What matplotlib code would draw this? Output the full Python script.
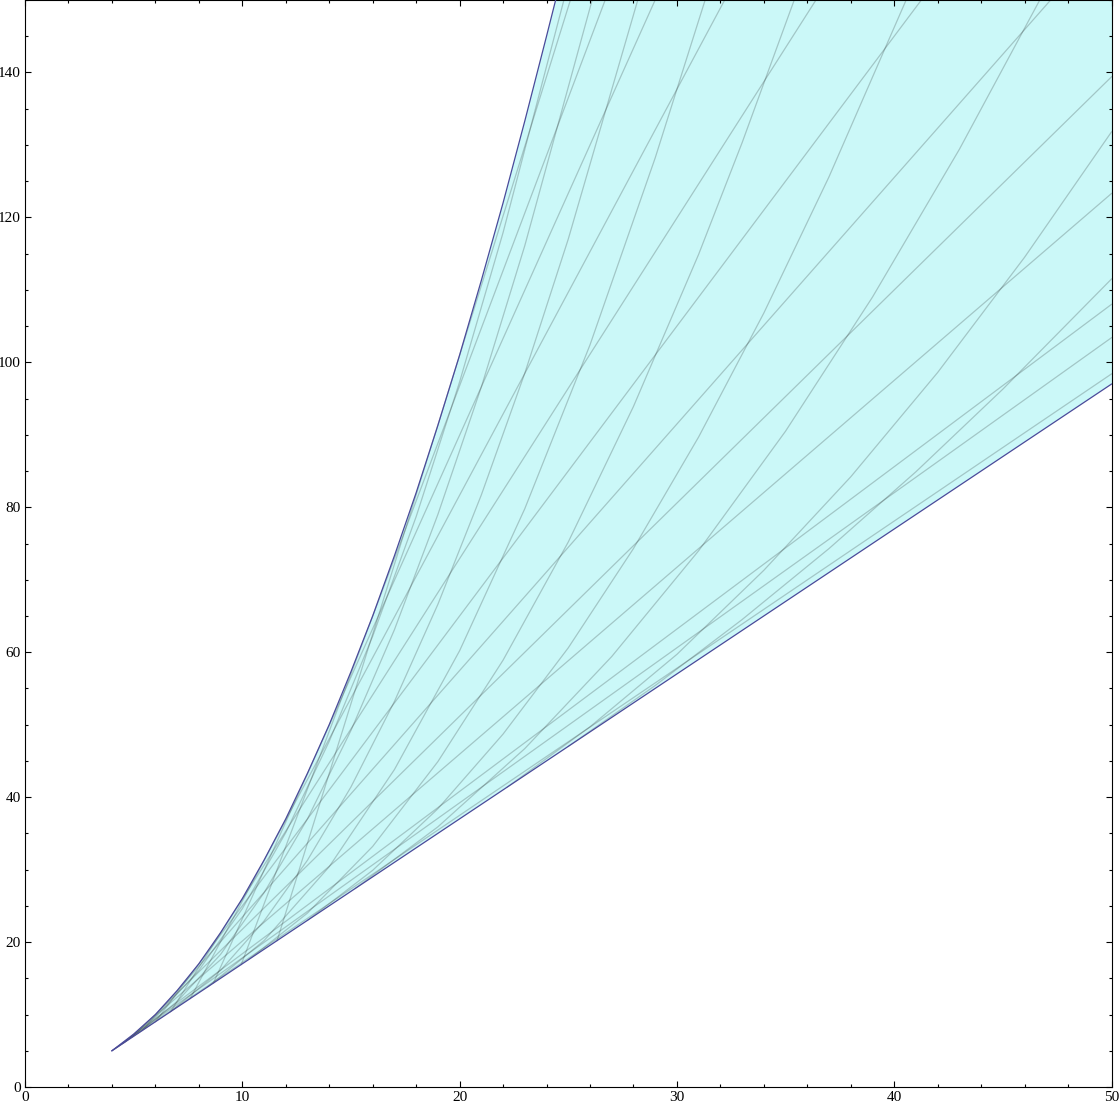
import matplotlib
matplotlib.use("Agg")
import matplotlib.pyplot as plt
from matplotlib.ticker import MultipleLocator

plt.rcParams['font.family'] = ['Liberation Serif', 'DejaVu Serif']

# upper edge of the region
upper_x = [4, 5, 6, 7, 8, 9, 10, 11, 12, 13, 14, 15, 16, 17, 18, 19, 20, 21, 22, 23, 24, 24.42]
upper_y = [5.0, 7.3, 10.0, 13.3, 17.0, 21.3, 26.0, 31.3, 37.0, 43.3, 50.0, 57.3, 65.0, 73.3,
           82.0, 91.3, 101.0, 111.3, 122.0, 133.3, 145.0, 150.0]

# lower edge: straight line
lower_x = [4, 50]
lower_y = [5, 97]

# straight mesh lines: start on lower edge, end on frame
line_x0 = [4.03, 4.14, 4.24, 4.58, 4.94, 5.4, 6.0, 6.7, 7.6, 8.67, 9.95, 11.6]
line_y0 = [5.06, 5.28, 5.48, 6.16, 6.88, 7.8, 9.0, 10.4, 12.2, 14.34, 16.9, 20.2]
line_x1 = [50, 50, 50, 50, 50, 47.2, 41.25, 36.4, 32.2, 29.0, 26.7, 25.1]
line_y1 = [98.4, 103.4, 108.0, 123.3, 139.4, 150, 150, 150, 150, 150, 150, 150]

# curved mesh lines (they leave the lower edge tangentially), points read along each one
curve_xs = [
    [4.5, 6, 8, 10, 12, 14, 16, 18, 20, 22, 24.8],
    [5.2, 7, 9, 11, 13, 15, 17, 19, 21, 23, 26.1],
    [6.7, 9, 11, 13, 15, 17, 19, 21, 23, 25, 28.2],
    [8.4, 11, 14, 17, 20, 23, 26, 29, 31.3],
    [10.3, 13, 16, 19, 22, 25, 28, 31, 33, 35.4],
    [13, 16, 19, 22, 25, 28, 31, 34, 37, 40.55],
    [15.2, 19, 23, 27, 31, 35, 39, 43, 46.7],
    [22.2, 26, 30, 34, 38, 42, 46, 50],
    [25, 29, 33, 37, 41, 45, 50],
]
curve_ys = [
    [6.0, 9.6, 16.1, 24.6, 35.1, 47.7, 62.2, 78.7, 97.3, 117.9, 150],
    [7.4, 11.8, 18.3, 26.8, 37.0, 49.2, 63.1, 79.0, 96.6, 116.1, 150],
    [10.4, 16.1, 22.9, 31.3, 41.4, 53.2, 66.6, 81.7, 98.5, 117.0, 150],
    [13.8, 20.2, 30.4, 43.8, 60.2, 79.8, 102.4, 128.2, 150],
    [17.6, 24.0, 33.2, 44.9, 58.9, 75.2, 93.9, 114.9, 130.3, 150],
    [23.0, 29.9, 38.4, 48.7, 60.6, 74.3, 89.7, 106.8, 125.6, 150],
    [27.4, 35.9, 46.7, 59.4, 74.0, 90.5, 109.0, 129.4, 150],
    [41.4, 49.7, 59.7, 71.3, 84.2, 98.6, 114.5, 131.8],
    [47.0, 55.4, 64.5, 74.3, 84.9, 96.3, 111.5],
]

fig = plt.figure(figsize=(11.2, 11.09), dpi=100)
ax = fig.add_axes([25 / 1120, 22 / 1109, 1086.5 / 1120, 1087 / 1109])

# shaded region (upper edge, then over the top, back along the lower edge)
poly_x = upper_x + [lower_x[1] + 5, lower_x[1]] + [lower_x[0]]
poly_y = upper_y + [160, lower_y[1]] + [lower_y[0]]
ax.fill(poly_x, poly_y, color='#cbf8f8', lw=0, zorder=1)

for i in range(len(line_x0)):
    ax.plot([line_x0[i], line_x1[i]], [line_y0[i], line_y1[i]],
            color='black', alpha=0.2, lw=0.9, zorder=2)
for cx, cy in zip(curve_xs, curve_ys):
    ax.plot(cx, cy, color='black', alpha=0.2, lw=0.9, zorder=2)

ax.plot(upper_x, upper_y, color='#4a4a9a', lw=0.9, zorder=3)
ax.plot(lower_x, lower_y, color='#4a4a9a', lw=0.9, zorder=3)

ax.set_xlim(0, 50)
ax.set_ylim(0, 150)
ax.xaxis.set_major_locator(MultipleLocator(10))
ax.xaxis.set_minor_locator(MultipleLocator(2))
ax.yaxis.set_major_locator(MultipleLocator(20))
ax.yaxis.set_minor_locator(MultipleLocator(5))
ax.tick_params(which='both', direction='in', top=True, right=True,
               labelsize=11, pad=3, width=0.8)
ax.tick_params(which='major', length=4)
ax.tick_params(which='minor', length=2.2)
for s in ax.spines.values():
    s.set_linewidth(0.8)
    s.set_clip_on(False)

fig.savefig('out.png', dpi=100)
plt.close(fig)
